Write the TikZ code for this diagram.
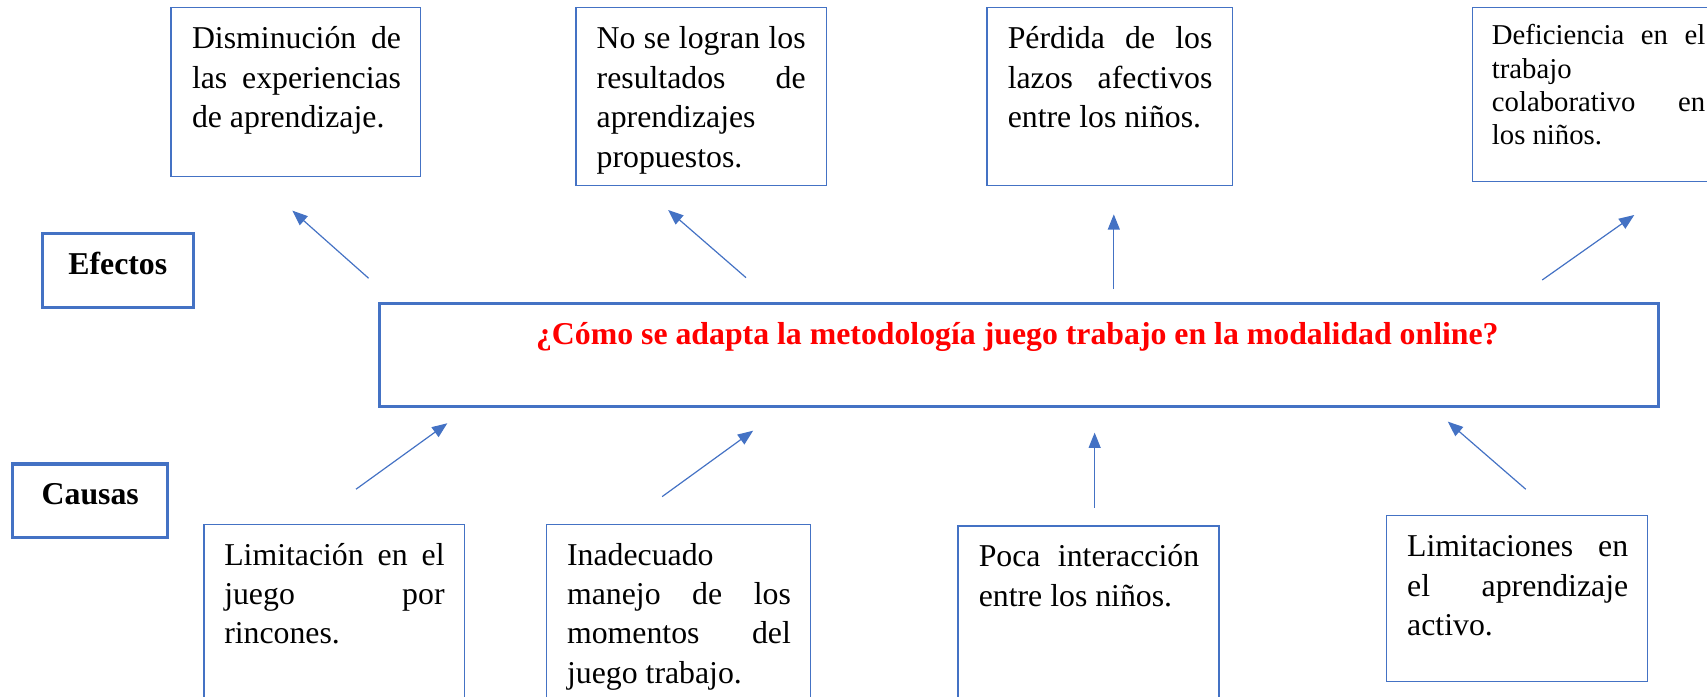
\documentclass[tikz,border=0pt]{standalone}
\usepackage{fontspec}
\setmainfont{Liberation Serif}
\usetikzlibrary{arrows.meta}
\definecolor{obl}{HTML}{4472C4}
\definecolor{qred}{HTML}{FF0000}
\newsavebox\jlbox
\newcommand\jl[1]{\sbox\jlbox{#1}\ifdim\wd\jlbox>\hsize\hbox to\hsize{\resizebox{\hsize}{\height}{\usebox\jlbox}}\else\hbox to\hsize{#1}\fi}
\newcommand\jlast[1]{\hbox to\hsize{#1\hfil}}
\newcommand\parablock[2]{\vtop{\hsize=#1\relax\hbadness=10000 #2}}
\newcommand\boxnode[6]{\node[#1,minimum width={(#5-#3)*0.5pt},minimum height={(#6-#4)*0.5pt}] (#2) at ({(#3+#5)/2},{(#4+#6)/2}) {};}
\begin{document}
\begin{tikzpicture}[x=0.5pt,y=-0.5pt,
  thinbox/.style={draw=obl,line width=0.6pt,inner sep=0pt,outer sep=0pt},
  thickbox/.style={draw=obl,line width=1.4pt,inner sep=0pt,outer sep=0pt},
  bodytext/.style={anchor=base west,inner sep=0pt,font=\fontsize{14.6}{18.1}\selectfont},
  smalltext/.style={anchor=base west,inner sep=0pt,font=\fontsize{13.2}{15.3}\selectfont},
  headtext/.style={anchor=base,inner sep=0pt,font=\bfseries\fontsize{14.6}{17}\selectfont},
  arr/.style={draw=obl,line width=0.55pt,-{Triangle[length=7pt,width=5.5pt]}}]
\useasboundingbox (0,0) rectangle (1568,640);
\clip (0,0) rectangle (1568,640);
% boxes
\boxnode{thinbox}{b1}{157}{7}{386}{162}
\boxnode{thinbox}{b2}{529}{6.7}{759}{170.5}
\boxnode{thinbox}{b3}{906.6}{6.7}{1132}{170.5}
\boxnode{thinbox}{b4}{1352.6}{6.7}{1582}{167}
\boxnode{thickbox}{efe}{38.9}{214.3}{177.6}{282.3}
\boxnode{thickbox}{prob}{349}{278.6}{1523}{373}
\boxnode{thickbox}{cau}{11.3}{426.2}{153.7}{493.9}
\boxnode{thinbox}{c1}{187.5}{481.6}{426.8}{660}
\boxnode{thinbox}{c2}{502.3}{481.6}{744.7}{660}
\boxnode{thinbox}{c3}{880}{483.2}{1119.8}{660}
\boxnode{thinbox}{c4}{1273.5}{473.7}{1513.4}{626}
% headings
\node[headtext] (efet) at (108.2,251.7) {Efectos};
\node[headtext] (caut) at (82.9,463.8) {Causas};
\node[headtext,text=qred] (probt) at (934.5,316.9) {¿Cómo se adapta la metodología juego trabajo en la modalidad online?};
% effect texts
\node[bodytext] (t1) at (176,45) {\parablock{96pt}{\jl{Disminución de}\jl{las experiencias}\jlast{de aprendizaje.}}};
\node[bodytext] (t2) at (547.7,45) {\parablock{96pt}{\jl{No se logran los}\jl{resultados de}\jlast{aprendizajes}\jlast{propuestos.}}};
\node[bodytext] (t3) at (925.3,45) {\parablock{94pt}{\jl{Pérdida de los}\jl{lazos afectivos}\jlast{entre los niños.}}};
\node[smalltext] (t4) at (1370,41.3) {\parablock{98pt}{\jl{Deficiencia en el}\jlast{trabajo}\jl{colaborativo en}\jlast{los niños.}}};
% cause texts
\node[bodytext] (u1) at (205.6,519) {\parablock{101.2pt}{\jl{Limitación en el}\jl{juego por}\jlast{rincones.}}};
\node[bodytext] (u2) at (520.5,519) {\parablock{102.8pt}{\jlast{Inadecuado}\jl{manejo de los}\jl{momentos del}\jlast{juego trabajo.}}};
\node[bodytext] (u3) at (898.7,520.5) {\parablock{101.2pt}{\jl{Poca interacción}\jlast{entre los niños.}}};
\node[bodytext] (u4) at (1292.2,511.3) {\parablock{101.5pt}{\jl{Limitaciones en}\jl{el aprendizaje}\jlast{activo.}}};
% arrow ends
\coordinate (a1s) at (338.6,255.6); \coordinate (a1e) at (268.6,193.5);
\coordinate (a2s) at (685.2,255);   \coordinate (a2e) at (613.7,192.9);
\coordinate (a3s) at (1023.1,265.7);\coordinate (a3e) at (1023.1,196.9);
\coordinate (a4s) at (1416.6,257.2);\coordinate (a4e) at (1501.2,197.5);
\coordinate (d1s) at (327,449.4);   \coordinate (d1e) at (410.9,388.8);
\coordinate (d2s) at (608.2,456.2); \coordinate (d2e) at (691.8,395.6);
\coordinate (d3s) at (1005.5,466.3);\coordinate (d3e) at (1005.5,397.4);
\coordinate (d4s) at (1401.5,449.4);\coordinate (d4e) at (1329.9,387.3);
\draw[arr] (a1s) -- (a1e);
\draw[arr] (a2s) -- (a2e);
\draw[arr] (a3s) -- (a3e);
\draw[arr] (a4s) -- (a4e);
\draw[arr] (d1s) -- (d1e);
\draw[arr] (d2s) -- (d2e);
\draw[arr] (d3s) -- (d3e);
\draw[arr] (d4s) -- (d4e);
\end{tikzpicture}
\end{document}
